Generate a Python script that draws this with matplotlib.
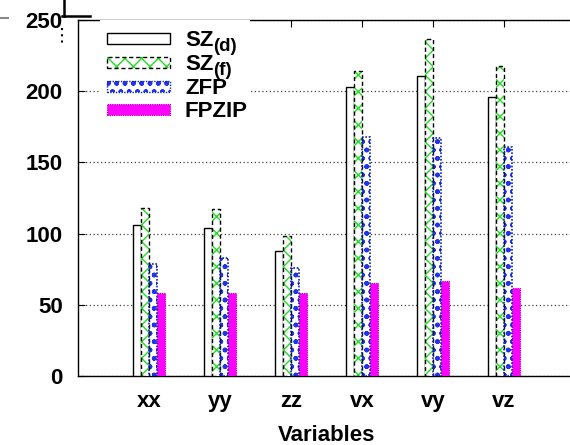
import matplotlib
matplotlib.use("Agg")
import matplotlib.pyplot as plt
import numpy as np
from matplotlib.lines import Line2D
from matplotlib.patches import Rectangle

plt.rcParams['font.family'] = ['Liberation Sans', 'DejaVu Sans']
plt.rcParams['font.weight'] = 'bold'
plt.rcParams['axes.labelweight'] = 'bold'
plt.rcParams['hatch.linewidth'] = 1.0

categories = ['xx', 'yy', 'zz', 'vx', 'vy', 'vz']
sz_d = [106, 104, 88, 203, 211, 196]
sz_f = [118, 117, 98, 214, 237, 218]
zfp = [79, 83, 76, 168, 167, 161]
fpzip = [58, 58, 58, 65, 67, 62]
yticks = [0, 50, 100, 150, 200, 250]
series_names = [('SZ', '(d)'), ('SZ', '(f)'), ('ZFP', ''), ('FPZIP', '')]

W, H = 570, 445
fig = plt.figure(figsize=(W/100, H/100), dpi=100)
ax = fig.add_axes([78/W, 69/H, 497/W, 356/H])

x = np.arange(1, len(categories) + 1)
w = 0.11
fs = 16

GREEN = '#22dd22'
BLUE = '#2233ee'
MAG = '#ff00ff'

# SZ(d)
ax.bar(x - 1.5*w, sz_d, w, facecolor='white', edgecolor='black', linewidth=1.0, zorder=3)
# SZ(f): green hatch, dashed black edge
ax.bar(x - 0.5*w, sz_f, w, facecolor='white', edgecolor=GREEN, hatch='xx', linewidth=0, zorder=3)
ax.bar(x - 0.5*w, sz_f, w, facecolor='none', edgecolor='black', linestyle=(0, (3, 2)), linewidth=1.0, zorder=4)
# ZFP: blue dotted pattern
ax.bar(x + 0.5*w, zfp, w, facecolor='white', edgecolor=BLUE, hatch='oo..', linewidth=0, zorder=3)
ax.bar(x + 0.5*w, zfp, w, facecolor='none', edgecolor='#1122aa', linestyle=(0, (1, 1)), linewidth=1.2, zorder=4)
# FPZIP: magenta
ax.bar(x + 1.5*w, fpzip, w, facecolor=MAG, edgecolor='#aa00aa', linestyle=(0, (1, 1)), linewidth=0.8, zorder=3)

ax.set_xlim(0, 7)
ax.set_ylim(0, 250)
ax.set_yticks(yticks)
ax.set_yticklabels([str(v) for v in yticks], fontsize=fs)
ax.set_xticks(x)
ax.set_xticklabels(categories, fontsize=fs)
ax.set_xlabel('Variables', fontsize=fs, fontweight='bold', labelpad=9)
ax.tick_params(axis='y', direction='in', length=5, pad=11, right=False)
ax.tick_params(axis='x', direction='in', length=5, pad=11, top=True)
ax.yaxis.grid(True, linestyle=(0, (1, 2)), color='#444444', linewidth=0.9, zorder=0)
ax.set_axisbelow(True)
ax.spines['right'].set_visible(False)
for s in ['left', 'top', 'bottom']:
    ax.spines[s].set_linewidth(1.0)

# legend, drawn by hand in figure pixels
def fx(px):
    return px / W

def fy(py):
    return 1 - py / H

leg_bg = Rectangle((fx(100), fy(120)), fx(150), 100/H, transform=fig.transFigure,
                   facecolor='white', edgecolor='none', zorder=5)
fig.add_artist(leg_bg)
styles = [
    dict(facecolor='white', edgecolor='black', linewidth=1.0),
    dict(facecolor='white', edgecolor=GREEN, hatch='xx', linewidth=0),
    dict(facecolor='white', edgecolor=BLUE, hatch='oo..', linewidth=0),
    dict(facecolor=MAG, edgecolor='#aa00aa', linestyle=(0, (1, 1)), linewidth=0.8),
]
overlay = [None, dict(edgecolor='black', linestyle=(0, (3, 2))),
           dict(edgecolor='#1122aa', linestyle=(0, (1, 1))), None]
for i, ((main, sub), st) in enumerate(zip(series_names, styles)):
    cy = 38.5 + 23.8 * i
    r = Rectangle((fx(107), fy(cy + 5.5)), 63/W, 11/H, transform=fig.transFigure, zorder=6, **st)
    fig.add_artist(r)
    if overlay[i] is not None:
        fig.add_artist(Rectangle((fx(107), fy(cy + 5.5)), 63/W, 11/H, transform=fig.transFigure,
                                 zorder=7, facecolor='none', linewidth=1.0, **overlay[i]))
    fig.text(fx(185), fy(cy + 7.5), main, fontsize=fs, va='baseline', ha='left', zorder=8)
    if sub:
        fig.text(fx(213.5), fy(cy + 12.5), sub, fontsize=13.5, va='baseline', ha='left', zorder=8)

# stray marks at the top-left corner
fig.add_artist(Line2D([0/W, 8/W], [fy(18), fy(18)], color='#888888', lw=1.5))
fig.add_artist(Line2D([62/W, 90/W], [fy(16), fy(16)], color='black', lw=1.8))
fig.add_artist(Line2D([64/W, 64/W], [fy(0), fy(16)], color='black', lw=1.8))
fig.add_artist(Line2D([62/W, 62/W], [fy(28), fy(44)], color='black', lw=1.5,
                      linestyle=(0, (1, 2))))

fig.savefig('out.png', dpi=100)
